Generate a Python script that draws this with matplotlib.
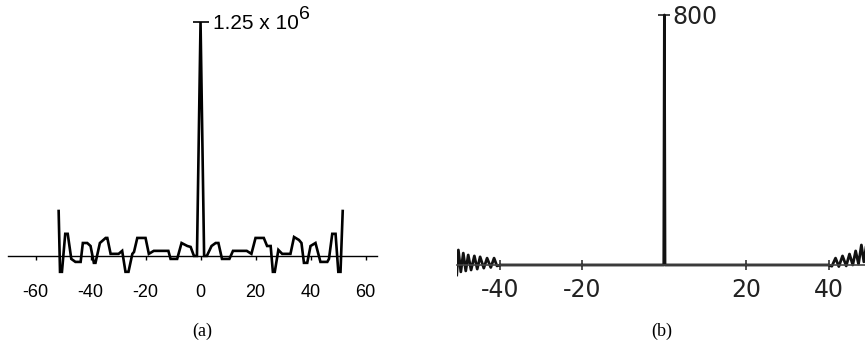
import numpy as np
import matplotlib
matplotlib.use("Agg")
import matplotlib.pyplot as plt

plt.rcParams["axes.unicode_minus"] = False

# (a) autocorrelation, lag vs value (thousands)
lag_a = [-51.6, -51.1, -50.4, -49.2, -48.3, -47.0, -45.5, -43.6, -42.8, -41.2, -40.0,
         -38.8, -38.2, -36.6, -34.5, -33.9, -32.7, -29.8, -28.5, -27.3, -26.2, -24.8,
         -24.2, -23.0, -20.0, -18.8, -17.0, -11.7, -10.9, -8.5, -6.9, -4.8, -3.6, -2.4,
         -1.3, 0.0, 1.3,
         2.3, 4.0, 5.5, 6.5, 7.8, 10.5, 11.8, 16.8, 18.5, 20.0, 23.0, 24.2, 25.5, 26.3,
         27.0, 28.3, 29.7, 32.7, 34.0, 35.8, 36.7, 37.6, 38.8, 40.0, 41.8, 43.6, 46.1,
         46.7, 47.9, 49.1, 50.1, 50.9, 51.7]
val_a = [240, -85, -85, 118, 118, -16, -32, -32, 69, 69, 53,
         -37, -37, 69, 96, 96, 11, 11, 27, -85, -85, 11,
         21, 96, 96, 11, 27, 27, -16, -16, 69, 53, 48, 0,
         0, 1250, 0,
         0, 53, 69, 69, -16, -16, 27, 27, 11, 96, 96, 53, 53, -85,
         -85, 32, 11, 11, 101, 85, 69, -37, -37, 53, 69, -32, -32,
         -16, 118, 118, -85, -85, 240]

# (b) hand-drawn version
lag_b = [-50.6, -50.2, -49.6, -49.0, -48.4, -47.8, -47.1, -46.3, -45.6, -44.9,
         -44.0, -43.2, -42.3, -41.5, -40.8, -40.0,
         -0.15, 0.0, 0.15,
         40.0, 40.8, 41.7, 42.5, 43.4, 44.3, 45.1, 45.9, 46.6, 47.3, 48.0, 48.6, 49.3]
val_b = [-32, 48, -22, 38, -19, 32, -16, 29, -13, 26,
         -10, 22, -8, 22, -3, 0,
         0, 800, 0,
         0, -4, 22, -5, 29, -3, 35, 0, 45, 3, 64, 10, 72]

a_ticks = [-60, -40, -20, 0, 20, 40, 60]
b_ticks = [-40, -20, 20, 40]
b_ticklabels = ["-40", "-20", "20", "40"]

fig = plt.figure(figsize=(8.65, 3.47), dpi=100)

# ---- panel (a)
ax1 = fig.add_axes([0.0093, 0.1816, 0.426, 0.782])
ax1.plot(lag_a, np.array(val_a) * 1e3, color="black", lw=1.9, solid_joinstyle="miter")
ax1.set_xlim(-70, 64)
ax1.set_ylim(-150e3, 1.3e6)
for s in ["left", "top"]:
    ax1.spines[s].set_visible(False)
ax1.spines["bottom"].set_position(("data", 0))
ax1.spines["bottom"].set_linewidth(1.0)
ax1.spines["right"].set_position(("data", 0))
ax1.spines["right"].set_visible(False)
ax1.set_xticks(a_ticks)
ax1.tick_params(axis="x", direction="out", length=3, width=1, pad=17,
                labelsize=13, labelfontfamily="Liberation Sans")
ax1.yaxis.tick_right()
ax1.set_yticks([1.25e6])
ax1.set_yticklabels(["1.25 x 10"])
ax1.tick_params(axis="y", direction="inout", length=12, width=1.2, pad=3,
                labelsize=15, labelfontfamily="Liberation Sans")
ax1.annotate("6", xy=(0, 1.25e6), xytext=(71, 2), textcoords="offset points",
             fontsize=14, family="Liberation Sans", va="baseline", ha="left")

# ---- panel (b)
ax2 = fig.add_axes([0.528, 0.1463, 0.474, 0.8465])
ax2.plot(lag_b, val_b, color="#111111", lw=2.0)
ax2.set_xlim(-50.6, 49.3)
ax2.set_ylim(-100, 840)
for s in ["left", "top"]:
    ax2.spines[s].set_visible(False)
ax2.spines["bottom"].set_position(("data", 0))
ax2.spines["bottom"].set_color("#444444")
ax2.spines["bottom"].set_linewidth(1.2)
ax2.spines["right"].set_position(("data", 0))
ax2.spines["right"].set_visible(False)
ax2.set_xticks(b_ticks)
ax2.set_xticklabels(b_ticklabels)
ax2.tick_params(axis="x", direction="inout", length=7, width=1.1, pad=6,
                labelsize=17, colors="#222222")
ax2.yaxis.tick_right()
ax2.set_yticks([800])
ax2.set_yticklabels(["800"])
ax2.tick_params(axis="y", direction="inout", length=9, width=1.2, pad=1,
                labelsize=17, colors="#222222")

fig.text(202 / 865, 1 - 331 / 347, "(a)", ha="center", va="center",
         fontsize=13, family="Liberation Serif")
fig.text(662 / 865, 1 - 331 / 347, "(b)", ha="center", va="center",
         fontsize=13, family="Liberation Serif")

fig.savefig("out.png", dpi=100)
